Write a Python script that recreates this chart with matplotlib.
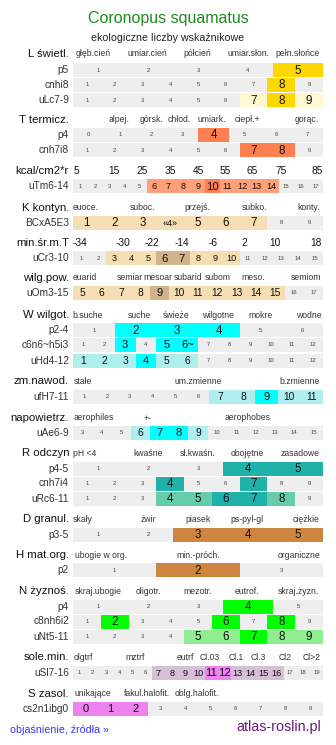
import matplotlib.pyplot as plt

plt.rcParams['font.family'] = ['Liberation Sans', 'DejaVu Sans']

# ---- data: header labels, cell labels, levels (0 = none, 1 = range, 2 = main value)
title = "Coronopus squamatus"
subtitle = "ekologiczne liczby wskaźnikowe"

L_heads = ["głęb.cień", "umiar.cień", "półcień", "umiar.słon.", "pełn.słońce"]
L_p5 = "1 2 3 4 5".split()
L_p5_lv = [0, 0, 0, 0, 2]
L_cnhi8 = "1 2 3 4 5 6 7 8 9".split()
L_cnhi8_lv = [0, 0, 0, 0, 0, 0, 0, 2, 0]
L_uLc = "1 2 3 4 5 6 7 8 9".split()
L_uLc_lv = [0, 0, 0, 0, 0, 0, 1, 2, 1]

T_heads = ["alpej.", "górsk.", "chłod.", "umiark.", "ciepł.+", "gorąc."]
T_p4 = "0 1 2 3 4 5 6 7".split()
T_p4_lv = [0, 0, 0, 0, 2, 0, 0, 0]
T_cnh = "1 2 3 4 5 6 7 8 9".split()
T_cnh_lv = [0, 0, 0, 0, 0, 0, 2, 2, 0]
kcal_heads = ["5", "15", "25", "35", "45", "55", "65", "75", "85"]
T_uTm = "1 2 3 4 5 6 7 8 9 10 11 12 13 14 15 16 17".split()
T_uTm_lv = [0, 0, 0, 0, 0, 1, 1, 1, 1, 2, 1, 1, 1, 1, 0, 0, 0]

K_heads = ["euoce.", "suboc.", "przejś.", "subko.", "konty."]
K_bc = ["1", "2", "3", "«4»", "5", "6", "7", "8", "9"]
K_bc_lv = [1, 1, 1, 1, 1, 1, 1, 0, 0]
minT_heads = ["-34", "-30", "-22", "-14", "-6", "2", "10", "18"]
K_uCr = "1 2 3 4 5 6 7 8 9 10 11 12 13 14 15".split()
K_uCr_lv = [0, 0, 1, 1, 1, 2, 2, 1, 1, 1, 0, 0, 0, 0, 0]
wilg_heads = ["euarid", "semiar", "mesoar", "subarid", "subom", "meso.", "semiom"]
K_uOm = "5 6 7 8 9 10 11 12 13 14 15 16 17".split()
K_uOm_lv = [1, 1, 1, 1, 2, 1, 1, 1, 1, 1, 1, 0, 0]

W_heads = ["b.suche", "suche", "świeże", "wilgotne", "mokre", "wodne"]
W_p = "1 2 3 4 5 6".split()
W_p_lv = [0, 2, 2, 2, 0, 0]
W_c6 = ["1", "2", "3", "4", "5", "6~", "7", "8", "9", "10", "11", "12"]
W_c6_lv = [0, 0, 2, 0, 2, 2, 0, 0, 0, 0, 0, 0]
W_uHd = "1 2 3 4 5 6 7 8 9 10 11 12".split()
W_uHd_lv = [1, 1, 1, 2, 1, 1, 0, 0, 0, 0, 0, 0]
zm_heads = ["stałe", "um.zmienne", "b.zmienne"]
W_ufH = "1 2 3 4 5 6 7 8 9 10 11".split()
W_ufH_lv = [0, 0, 0, 0, 0, 0, 1, 1, 2, 1, 1]
A_heads = ["aerophiles", "+-", "aerophobes"]
A_uAe = "3 4 5 6 7 8 9 10 11 12 13 14 15".split()
A_uAe_lv = [0, 0, 0, 1, 2, 2, 1, 0, 0, 0, 0, 0, 0]

R_heads = ["pH <4", "kwaśne", "sł.kwaśn.", "obojętne", "zasadowe"]
R_p = "1 2 3 4 5".split()
R_p_lv = [0, 0, 0, 2, 2]
R_cnh = "1 2 3 4 5 6 7 8 9".split()
R_cnh_lv = [0, 0, 0, 2, 0, 0, 2, 0, 0]
R_uRc = "1 2 3 4 5 6 7 8 9".split()
R_uRc_lv = [0, 0, 0, 1, 1, 2, 2, 1, 0]

D_heads = ["skały", "żwir", "piasek", "ps-pyl-gl", "ciężkie"]
D_p = "1 2 3 4 5".split()
D_p_lv = [0, 0, 2, 2, 2]
H_heads = ["ubogie w org.", "min.-próch.", "organiczne"]
H_p = "1 2 3".split()
H_p_lv = [0, 2, 0]

N_heads = ["skraj.ubogie", "oligotr.", "mezotr.", "eutrof.", "skraj.żyzn."]
N_p = "1 2 3 4 5".split()
N_p_lv = [0, 0, 0, 2, 0]
N_c8 = "1 2 3 4 5 6 7 8 9".split()
N_c8_lv = [0, 2, 0, 0, 0, 2, 0, 2, 0]
N_uNt = "1 2 3 4 5 6 7 8 9".split()
N_uNt_lv = [0, 0, 0, 0, 1, 1, 2, 1, 1]

Sl_heads = ["olgtrf", "mztrf", "eutrf", "Cl.03", "Cl.1", "Cl.3", "Cl2", "Cl>2"]
Sl_uSl = "1 2 3 4 5 6 7 8 9 10 11 12 13 14 15 16 17 18 19".split()
Sl_uSl_lv = [0, 0, 0, 0, 0, 0, 1, 1, 1, 1, 2, 2, 1, 1, 1, 1, 0, 0, 0]
S_heads = ["unikające", "fakul.halofit.", "oblg.halofit."]
S_cs = "0 1 2 3 4 5 6 7 8 9".split()
S_cs_lv = [2, 2, 2, 0, 0, 0, 0, 0, 0, 0]

# ---- styles / layout
GRAY = "#eeeeee"
pal_L = {1: "#fff8d0", 2: "#ffd700"}
pal_T = {1: "#ffa07a", 2: "#ff7f50"}
pal_K = {1: "#f5deb3", 2: "#d2b48c"}
pal_W = {1: "#afeeee", 2: "#00ffff"}
pal_R = {1: "#66cdaa", 2: "#20b2aa"}
pal_D = {1: "#deb887", 2: "#cd853f"}
pal_N = {1: "#90ee90", 2: "#00ff00"}
pal_S = {1: "#d8bfd8", 2: "#ee82ee"}

X0, X1, LX = 73, 323, 69
BH = 14

fig = plt.figure(figsize=(3.36, 7.45), dpi=100)
ax = fig.add_axes([0, 0, 1, 1])
ax.set_xlim(0, 336)
ax.set_ylim(745, 0)
ax.axis('off')


def header(name, y, labels, xs, size=6.2, color="#333333"):
    ax.text(LX, y, name, ha='right', va='center', fontsize=8.2, color="#111111")
    for t, x in zip(labels, xs):
        ax.text(x, y, t, ha='center', va='center', fontsize=size, color=color)


def row(name, y, cells, levels, pal):
    n = len(cells)
    w = (X1 - X0) / n
    lefts = [X0 + i * w for i in range(n)]
    cols = [pal[lv] if lv else GRAY for lv in levels]
    ax.barh([y] * n, [w] * n, left=lefts, height=BH, color=cols, linewidth=0)
    ax.text(LX, y, name, ha='right', va='center', fontsize=7.3, color="#333333")
    for x, c, lv in zip(lefts, cells, levels):
        if lv == 0:
            ax.text(x + w / 2, y, c, ha='center', va='center', fontsize=4.2, color="#444444")
        else:
            if n <= 9:
                fs = 8.4
            elif n <= 13:
                fs = 8.0 if lv == 2 else 7.4
            else:
                fs = 8.2 if lv == 2 else 6.6
            if c.startswith("«"):
                fs = 6.5
            ax.text(x + w / 2, y + 0.5, c, ha='center', va='center', fontsize=fs, color="#111111")


ax.text(168, 19, title, ha='center', va='center', fontsize=11.5, color="#1e8a1e")
ax.text(168, 38, subtitle, ha='center', va='center', fontsize=7.7, color="#222222")

header("L świetl.", 54, L_heads, [93, 147, 197, 248, 298])
row("p5", 70, L_p5, L_p5_lv, pal_L)
row("cnhi8", 85, L_cnhi8, L_cnhi8_lv, pal_L)
row("uLc7-9", 100, L_uLc, L_uLc_lv, pal_L)

header("T termicz.", 120, T_heads, [119, 151, 179, 212, 247, 307])
row("p4", 135, T_p4, T_p4_lv, pal_T)
row("cnh7i8", 150, T_cnh, T_cnh_lv, pal_T)
header("kcal/cm2*r", 171, kcal_heads, [76, 114, 142, 170, 198, 225, 252, 281, 317],
       size=7.3, color="#111111")
row("uTm6-14", 186, T_uTm, T_uTm_lv, pal_T)

header("K kontyn.", 208, K_heads, [86, 142, 197, 254, 309])
row("BCxA5E3", 222.5, K_bc, K_bc_lv, pal_K)
header("min.śr.m.T", 243, minT_heads, [80, 123, 152, 182, 213, 244, 275, 316],
       size=7.3, color="#111111")
row("uCr3-10", 258, K_uCr, K_uCr_lv, pal_K)
header("wilg.pow.", 278, wilg_heads, [85, 130, 158, 188, 218, 253, 306])
row("uOm3-15", 293, K_uOm, K_uOm_lv, pal_K)

header("W wilgot.", 315, W_heads, [88, 139, 176, 218, 261, 309])
row("p2-4", 330, W_p, W_p_lv, pal_W)
row("c6n6~h5i3", 345, W_c6, W_c6_lv, pal_W)
row("uHd4-12", 360.5, W_uHd, W_uHd_lv, pal_W)
header("zm.nawod.", 381, zm_heads, [83, 198, 300])
row("ufH7-11", 396.5, W_ufH, W_ufH_lv, pal_W)

header("napowietrz.", 418, A_heads, [94, 148, 248])
row("uAe6-9", 432.5, A_uAe, A_uAe_lv, pal_W)

header("R odczyn", 453, R_heads, [85, 148, 198, 247, 300])
row("p4-5", 468.5, R_p, R_p_lv, pal_R)
row("cnh7i4", 483.5, R_cnh, R_cnh_lv, pal_R)
row("uRc6-11", 498.5, R_uRc, R_uRc_lv, pal_R)

header("D granul.", 519, D_heads, [83, 148, 198, 247, 306])
row("p3-5", 534.5, D_p, D_p_lv, pal_D)
header("H mat.org.", 555, H_heads, [101, 198, 299])
row("p2", 570, H_p, H_p_lv, pal_D)

header("N żyznoś.", 591, N_heads, [98, 148, 198, 247, 298])
row("p4", 606.5, N_p, N_p_lv, pal_N)
row("c8nh6i2", 621.5, N_c8, N_c8_lv, pal_N)
row("uNt5-11", 636.5, N_uNt, N_uNt_lv, pal_N)

header("sole.min.", 657, Sl_heads, [83, 135, 185, 210, 236, 258, 285, 312])
row("uSl7-16", 672.5, Sl_uSl, Sl_uSl_lv, pal_S)
header("S zasol.", 694, S_heads, [93, 147, 197])
row("cs2n1ibg0", 708.5, S_cs, S_cs_lv, pal_S)

ax.text(10, 730, "objaśnienie, źródła »", ha='left', va='center', fontsize=7.7, color="#3333ff")
ax.text(321, 727, "atlas-roslin.pl", ha='right', va='center', fontsize=10.3, color="#6a1b7a")

fig.savefig("out.png", dpi=100)
